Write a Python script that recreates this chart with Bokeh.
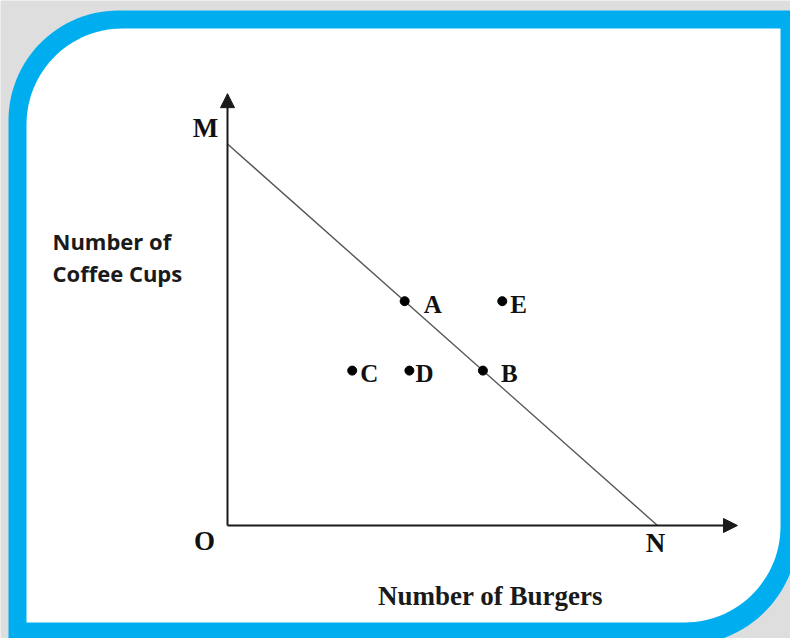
import numpy as np
from bokeh.plotting import figure
from bokeh.models import Range1d, Arrow, NormalHead, ColumnDataSource
from bokeh.core.properties import value
from bokeh.embed import file_html
from bokeh.resources import INLINE

# ---------------- data ----------------
point_names = ["A", "B", "C", "D", "E"]
burgers = [4.12, 5.94, 2.90, 4.23, 6.39]
coffee_cups = [5.88, 4.06, 4.06, 4.06, 5.88]

intercept_names = ["M", "N"]
intercept_burgers = [0, 10]
intercept_cups = [10, 0]

origin_name = ["O"]
origin_burgers = [0]
origin_cups = [0]

x_title = ["Number of Burgers"]
y_title_lines = ["Number of", "Coffee Cups"]

# ---------------- layout ----------------
W, H = 790, 638
OX, OY = 227, 525          # origin in figure pixels
UX, UY = 43.0, 38.15       # pixels per unit
x0, x1 = -OX / UX, (W - OX) / UX
y0, y1 = -(H - OY) / UY, OY / UY
X_TIP, Y_TIP = 11.86, 11.32

BLUE = "#00AEEF"
AXIS = "#1a1a1a"

p = figure(width=W, height=H, x_range=Range1d(x0, x1), y_range=Range1d(y0, y1),
           output_backend="svg", toolbar_location=None,
           x_axis_location=None, y_axis_location=None, min_border=0,
           background_fill_color="#dedede", border_fill_color="#dedede",
           outline_line_color=None)
p.grid.visible = False
p.extra_x_ranges = {"px": Range1d(0, W)}
p.extra_y_ranges = {"px": Range1d(H, 0)}


def rrect(l, t, r, b, rtl, rtr, rbr, rbl, n=30):
    xs, ys = [], []
    corners = [((l + rtl, t + rtl), rtl, 180, 270),
               ((r - rtr, t + rtr), rtr, 270, 360),
               ((r - rbr, b - rbr), rbr, 0, 90),
               ((l + rbl, b - rbl), rbl, 90, 180)]
    for (cx, cy), rad, a0, a1 in corners:
        for a in np.radians(np.linspace(a0, a1, n)):
            xs.append(cx + rad * np.cos(a))
            ys.append(cy + rad * np.sin(a))
    return xs, ys


ox, oy = rrect(8, 10, 798, 645, 110, 0, 115, 0)
p.patch(ox, oy, x_range_name="px", y_range_name="px", fill_color=BLUE, line_color=None)
ix, iy = rrect(26, 28, 780, 622, 96, 0, 96, 0)
p.patch(ix, iy, x_range_name="px", y_range_name="px", fill_color="white", line_color=None)

# axes with arrows
p.add_layout(Arrow(end=NormalHead(size=14, fill_color=AXIS, line_color=AXIS),
                   x_start=0, y_start=0, x_end=0, y_end=Y_TIP,
                   line_width=2, line_color=AXIS))
p.add_layout(Arrow(end=NormalHead(size=14, fill_color=AXIS, line_color=AXIS),
                   x_start=0, y_start=0, x_end=X_TIP, y_end=0,
                   line_width=2, line_color=AXIS))

# budget line M-N
p.line(intercept_burgers, intercept_cups, line_color="#555555", line_width=1.4)

# points
pts = ColumnDataSource(dict(x=burgers, y=coffee_cups, name=point_names,
                            dx=[19, 18, 8, 6, 8]))
p.scatter("x", "y", source=pts, size=9, color="black")
p.text("x", "y", text="name", source=pts, x_offset="dx", y_offset=3,
       text_font=value("Liberation Serif"), text_font_style="bold",
       text_font_size="25px", text_align="left", text_baseline="middle",
       text_color="#111111")

# intercept labels
ic = ColumnDataSource(dict(x=intercept_burgers, y=intercept_cups, name=intercept_names,
                           dx=[-22, -2], dy=[-16, 17]))
p.text("x", "y", text="name", source=ic, x_offset="dx", y_offset="dy",
       text_font=value("Liberation Serif"), text_font_style="bold",
       text_font_size="27px", text_align="center", text_baseline="middle",
       text_color="#111111")
p.text(origin_burgers, origin_cups, text=origin_name, x_offset=-23, y_offset=15,
       text_font=value("Liberation Serif"), text_font_style="bold",
       text_font_size="27px", text_align="center", text_baseline="middle",
       text_color="#111111")

# axis titles
p.text([52, 52], [240, 272], text=y_title_lines, x_range_name="px", y_range_name="px",
       text_font=value("Open Sans"), text_font_style="bold", text_font_size="22px",
       text_align="left", text_baseline="alphabetic", text_color="#1a1a1a")
p.text([490], [595], text=x_title, x_range_name="px", y_range_name="px",
       text_font=value("Liberation Serif"), text_font_style="bold", text_font_size="27px",
       text_align="center", text_baseline="alphabetic", text_color="#1a1a1a")

open("out.html", "w").write(file_html(p, INLINE))
